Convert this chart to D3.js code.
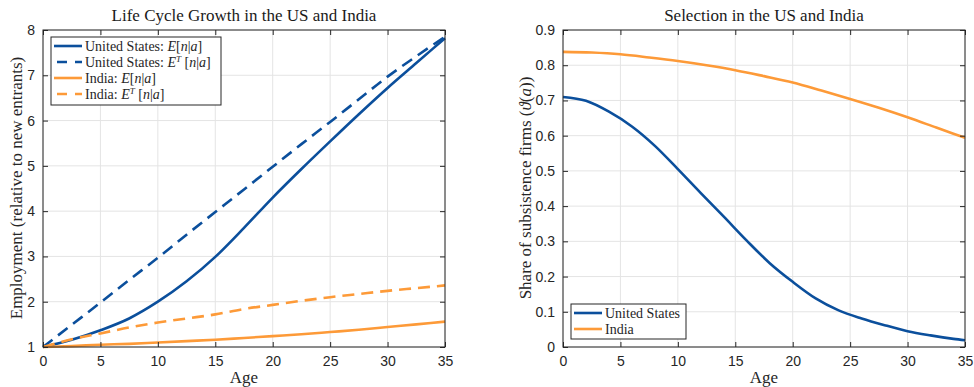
<!DOCTYPE html>
<html><head><meta charset="utf-8">
<script src="https://cdn.jsdelivr.net/npm/d3@7"></script>
<style>
body{margin:0;background:#fff;}
</style></head>
<body><svg id="c" width="974" height="387"></svg>
<script>
// ---- data ----
const ages  = [0, 2.5, 5, 7.5, 10, 12.5, 15, 17.5, 20, 22.5, 25, 27.5, 30, 32.5, 35];
const usE   = [1.0, 1.16, 1.37, 1.63, 2.0, 2.45, 2.99, 3.63, 4.3, 4.93, 5.54, 6.14, 6.72, 7.27, 7.82];
const usET  = [1.0, 1.49, 1.98, 2.48, 2.97, 3.48, 3.98, 4.48, 4.98, 5.48, 5.97, 6.47, 6.97, 7.42, 7.85];
const inE   = [1.0, 1.02, 1.05, 1.07, 1.1, 1.13, 1.16, 1.2, 1.24, 1.28, 1.33, 1.38, 1.44, 1.5, 1.56];
const inET  = [1.0, 1.17, 1.3, 1.43, 1.54, 1.63, 1.72, 1.84, 1.93, 2.02, 2.1, 2.17, 2.24, 2.3, 2.36];
const selAgesUS = [0, 2, 4, 6, 8, 10, 12, 14, 16, 18, 20, 22, 24, 26, 28, 30, 32, 34, 35];
const selUS     = [0.71, 0.699, 0.668, 0.626, 0.571, 0.505, 0.437, 0.37, 0.302, 0.238, 0.185, 0.138, 0.104, 0.081, 0.062, 0.045, 0.033, 0.023, 0.019];
const selAgesIN = [0, 2.5, 5, 7.5, 10, 12.5, 15, 17.5, 20, 22.5, 25, 27.5, 30, 32.5, 35];
const selIN     = [0.838, 0.836, 0.831, 0.822, 0.812, 0.8, 0.786, 0.769, 0.751, 0.728, 0.704, 0.679, 0.652, 0.623, 0.594];
const xTicks  = [0, 5, 10, 15, 20, 25, 30, 35];
const yTicksL = [1, 2, 3, 4, 5, 6, 7, 8];
const yTicksR = [0, 0.1, 0.2, 0.3, 0.4, 0.5, 0.6, 0.7, 0.8, 0.9];

const BLUE = "#0b4f9c", ORANGE = "#fd9a38";
const SERIF = '"Liberation Serif", "Times New Roman", serif';
const SANS = '"Liberation Sans", Arial, sans-serif';
const svg = d3.select("#c");

function panel(o) {
  const g = svg.append("g");
  const x = d3.scaleLinear().domain([0, 35]).range([o.left, o.right]);
  const y = d3.scaleLinear().domain(o.ydom).range([o.bottom, o.top]);
  g.selectAll(".gx").data(xTicks).join("line")
    .attr("x1", d => x(d)).attr("x2", d => x(d)).attr("y1", o.top).attr("y2", o.bottom)
    .attr("stroke", "#e4e4e4").attr("stroke-width", 1);
  g.selectAll(".gy").data(o.yticks).join("line")
    .attr("y1", d => y(d)).attr("y2", d => y(d)).attr("x1", o.left).attr("x2", o.right)
    .attr("stroke", "#e4e4e4").attr("stroke-width", 1);
  o.series.forEach(s => {
    const line = d3.line().x((d, i) => x(s.xs[i])).y(d => y(d)).curve(d3.curveMonotoneX);
    g.append("path").datum(s.ys).attr("d", line).attr("fill", "none")
      .attr("stroke", s.color).attr("stroke-width", 2.6)
      .attr("stroke-dasharray", s.dash ? "12,7" : null);
  });
  g.append("rect").attr("x", o.left).attr("y", o.top).attr("width", o.right - o.left)
    .attr("height", o.bottom - o.top).attr("fill", "none").attr("stroke", "#262626").attr("stroke-width", 1);
  const ax = g.append("g").attr("transform", `translate(0,${o.bottom})`)
    .call(d3.axisBottom(x).tickValues(xTicks).tickSize(-5).tickPadding(9).tickFormat(d3.format("d")));
  const axt = g.append("g").attr("transform", `translate(0,${o.top})`)
    .call(d3.axisTop(x).tickValues(xTicks).tickSize(-5).tickFormat(""));
  const ay = g.append("g").attr("transform", `translate(${o.left},0)`)
    .call(d3.axisLeft(y).tickValues(o.yticks).tickSize(-5).tickPadding(8).tickFormat(o.fmt));
  const ayr = g.append("g").attr("transform", `translate(${o.right},0)`)
    .call(d3.axisRight(y).tickValues(o.yticks).tickSize(-5).tickFormat(""));
  [ax, axt, ay, ayr].forEach(a => {
    a.attr("font-family", null).attr("font-size", null);
    a.select(".domain").remove();
    a.selectAll(".tick line").attr("stroke", "#262626");
    a.selectAll("text").style("font-family", SANS).style("font-size", "14px").attr("fill", "#262626");
  });
  g.append("text").attr("x", (o.left + o.right) / 2).attr("y", 21).attr("text-anchor", "middle")
    .style("font-family", SERIF).style("font-size", "17px").attr("fill", "#1a1a1a").text(o.title);
  g.append("text").attr("x", (o.left + o.right) / 2).attr("y", 383).attr("text-anchor", "middle")
    .style("font-family", SERIF).style("font-size", "17px").attr("fill", "#262626").text("Age");
  return {g, x, y};
}

panel({left: 43, right: 445, top: 30, bottom: 347, ydom: [1, 8], yticks: yTicksL,
  fmt: d3.format("d"), title: "Life Cycle Growth in the US and India",
  series: [
    {xs: ages, ys: usE, color: BLUE},
    {xs: ages, ys: usET, color: BLUE, dash: true},
    {xs: ages, ys: inE, color: ORANGE},
    {xs: ages, ys: inET, color: ORANGE, dash: true}]});

panel({left: 563, right: 965, top: 30, bottom: 347, ydom: [0, 0.9], yticks: yTicksR,
  fmt: d => d === 0 ? "0" : d3.format(".1f")(d), title: "Selection in the US and India",
  series: [
    {xs: selAgesUS, ys: selUS, color: BLUE},
    {xs: selAgesIN, ys: selIN, color: ORANGE}]});

svg.append("text").attr("transform", "translate(22,188) rotate(-90)")
  .attr("text-anchor", "middle").style("font-family", SERIF).style("font-size", "17px").attr("fill", "#262626")
  .text("Employment (relative to new entrants)");
const yr = svg.append("text").attr("transform", "translate(531,188) rotate(-90)")
  .attr("text-anchor", "middle").style("font-family", SERIF).style("font-size", "17px").attr("fill", "#262626");
yr.append("tspan").text("Share of subsistence firms (");
yr.append("tspan").style("font-style", "italic").text("ϑ");
yr.append("tspan").text("(");
yr.append("tspan").style("font-style", "italic").text("a");
yr.append("tspan").text("))");

function mathLabel(t, parts) {
  parts.forEach(p => {
    const ts = t.append("tspan").text(p.t);
    if (p.i) ts.style("font-style", "italic");
    if (p.sup) ts.style("font-size", "9px").attr("dy", -5);
    if (p.down) ts.attr("dy", 5);
  });
}
const legL = [
  {label: [{t: "United States:  "}, {t: "E", i: 1}, {t: "["}, {t: "n", i: 1}, {t: "|"}, {t: "a", i: 1}, {t: "]"}], color: BLUE},
  {label: [{t: "United States:  "}, {t: "E", i: 1}, {t: "T", i: 1, sup: 1}, {t: " [", down: 1}, {t: "n", i: 1}, {t: "|"}, {t: "a", i: 1}, {t: "]"}], color: BLUE, dash: true},
  {label: [{t: "India:  "}, {t: "E", i: 1}, {t: "["}, {t: "n", i: 1}, {t: "|"}, {t: "a", i: 1}, {t: "]"}], color: ORANGE},
  {label: [{t: "India:  "}, {t: "E", i: 1}, {t: "T", i: 1, sup: 1}, {t: " [", down: 1}, {t: "n", i: 1}, {t: "|"}, {t: "a", i: 1}, {t: "]"}], color: ORANGE, dash: true}];

function legend(x0, y0, w, h, items) {
  const g = svg.append("g");
  g.append("rect").attr("x", x0).attr("y", y0).attr("width", w).attr("height", h)
    .attr("fill", "#fff").attr("stroke", "#262626").attr("stroke-width", 1);
  items.forEach((it, i) => {
    const cy = y0 + 9 + i * 16;
    g.append("line").attr("x1", x0 + 3).attr("x2", x0 + 31).attr("y1", cy).attr("y2", cy)
      .attr("stroke", it.color).attr("stroke-width", 2.6)
      .attr("stroke-dasharray", it.dash ? "10,8" : null).attr("stroke-dashoffset", it.dash ? -3 : 0);
    const t = g.append("text").attr("x", x0 + 34).attr("y", cy + 4.5)
      .style("font-family", SERIF).style("font-size", "14px").attr("fill", "#262626");
    mathLabel(t, it.label);
  });
}
legend(51, 37, 170, 68, legL);
legend(571, 304, 115, 35, [
  {label: [{t: "United States"}], color: BLUE},
  {label: [{t: "India"}], color: ORANGE}]);
</script></body></html>
